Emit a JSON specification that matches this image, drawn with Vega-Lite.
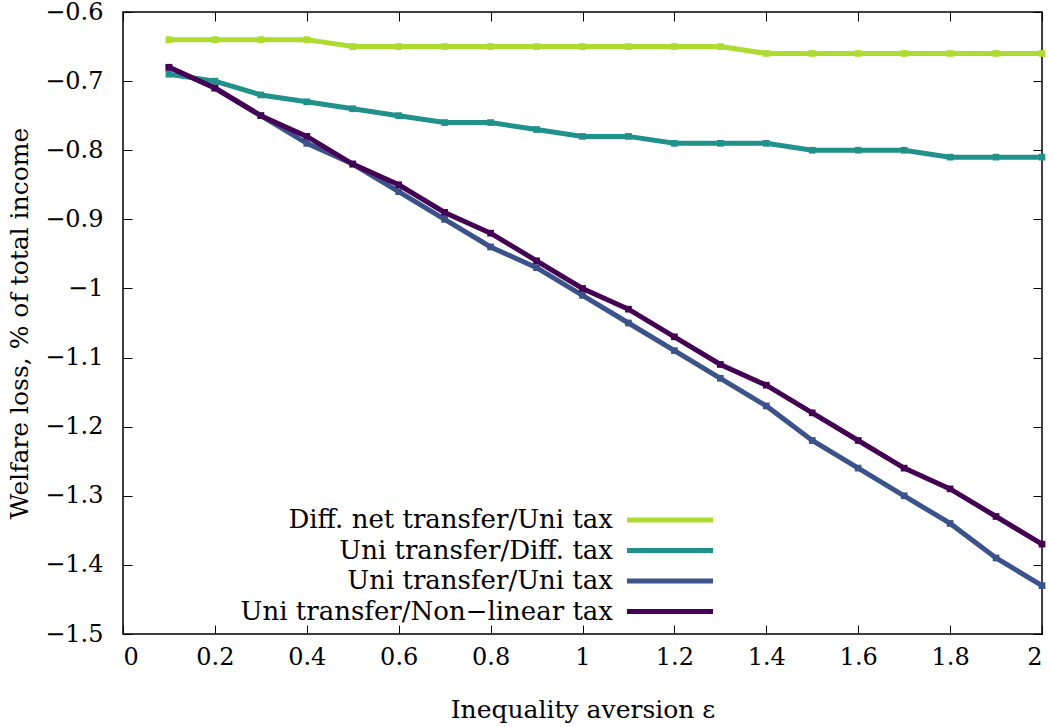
{
  "$schema": "https://vega.github.io/schema/vega-lite/v6.json",
  "width": 919,
  "height": 622,
  "autosize": {"type": "none"},
  "padding": {"left": 123, "top": 12, "right": 12, "bottom": 93},
  "background": "white",
  "config": {
    "view": {"stroke": "black", "strokeWidth": 1.5},
    "font": "DejaVu Serif",
    "axis": {
      "grid": false,
      "domain": false,
      "tickColor": "black",
      "tickSize": -9,
      "tickWidth": 1,
      "labelFont": "DejaVu Serif",
      "labelFontSize": 24,
      "labelColor": "black",
      "titleFont": "DejaVu Serif",
      "titleFontSize": 25,
      "titleFontWeight": "normal",
      "titleColor": "black"
    },
    "legend": {
      "labelFont": "DejaVu Serif",
      "labelFontSize": 26,
      "labelColor": "black",
      "labelLimit": 600
    }
  },
  "data": {
    "values": [
      {"e": 0.1, "v": -0.64, "s": "Diff. net transfer/Uni tax"},
      {"e": 0.2, "v": -0.64, "s": "Diff. net transfer/Uni tax"},
      {"e": 0.3, "v": -0.64, "s": "Diff. net transfer/Uni tax"},
      {"e": 0.4, "v": -0.64, "s": "Diff. net transfer/Uni tax"},
      {"e": 0.5, "v": -0.65, "s": "Diff. net transfer/Uni tax"},
      {"e": 0.6, "v": -0.65, "s": "Diff. net transfer/Uni tax"},
      {"e": 0.7, "v": -0.65, "s": "Diff. net transfer/Uni tax"},
      {"e": 0.8, "v": -0.65, "s": "Diff. net transfer/Uni tax"},
      {"e": 0.9, "v": -0.65, "s": "Diff. net transfer/Uni tax"},
      {"e": 1.0, "v": -0.65, "s": "Diff. net transfer/Uni tax"},
      {"e": 1.1, "v": -0.65, "s": "Diff. net transfer/Uni tax"},
      {"e": 1.2, "v": -0.65, "s": "Diff. net transfer/Uni tax"},
      {"e": 1.3, "v": -0.65, "s": "Diff. net transfer/Uni tax"},
      {"e": 1.4, "v": -0.66, "s": "Diff. net transfer/Uni tax"},
      {"e": 1.5, "v": -0.66, "s": "Diff. net transfer/Uni tax"},
      {"e": 1.6, "v": -0.66, "s": "Diff. net transfer/Uni tax"},
      {"e": 1.7, "v": -0.66, "s": "Diff. net transfer/Uni tax"},
      {"e": 1.8, "v": -0.66, "s": "Diff. net transfer/Uni tax"},
      {"e": 1.9, "v": -0.66, "s": "Diff. net transfer/Uni tax"},
      {"e": 2.0, "v": -0.66, "s": "Diff. net transfer/Uni tax"},
      {"e": 0.1, "v": -0.69, "s": "Uni transfer/Diff. tax"},
      {"e": 0.2, "v": -0.70, "s": "Uni transfer/Diff. tax"},
      {"e": 0.3, "v": -0.72, "s": "Uni transfer/Diff. tax"},
      {"e": 0.4, "v": -0.73, "s": "Uni transfer/Diff. tax"},
      {"e": 0.5, "v": -0.74, "s": "Uni transfer/Diff. tax"},
      {"e": 0.6, "v": -0.75, "s": "Uni transfer/Diff. tax"},
      {"e": 0.7, "v": -0.76, "s": "Uni transfer/Diff. tax"},
      {"e": 0.8, "v": -0.76, "s": "Uni transfer/Diff. tax"},
      {"e": 0.9, "v": -0.77, "s": "Uni transfer/Diff. tax"},
      {"e": 1.0, "v": -0.78, "s": "Uni transfer/Diff. tax"},
      {"e": 1.1, "v": -0.78, "s": "Uni transfer/Diff. tax"},
      {"e": 1.2, "v": -0.79, "s": "Uni transfer/Diff. tax"},
      {"e": 1.3, "v": -0.79, "s": "Uni transfer/Diff. tax"},
      {"e": 1.4, "v": -0.79, "s": "Uni transfer/Diff. tax"},
      {"e": 1.5, "v": -0.80, "s": "Uni transfer/Diff. tax"},
      {"e": 1.6, "v": -0.80, "s": "Uni transfer/Diff. tax"},
      {"e": 1.7, "v": -0.80, "s": "Uni transfer/Diff. tax"},
      {"e": 1.8, "v": -0.81, "s": "Uni transfer/Diff. tax"},
      {"e": 1.9, "v": -0.81, "s": "Uni transfer/Diff. tax"},
      {"e": 2.0, "v": -0.81, "s": "Uni transfer/Diff. tax"},
      {"e": 0.1, "v": -0.68, "s": "Uni transfer/Uni tax"},
      {"e": 0.2, "v": -0.71, "s": "Uni transfer/Uni tax"},
      {"e": 0.3, "v": -0.75, "s": "Uni transfer/Uni tax"},
      {"e": 0.4, "v": -0.79, "s": "Uni transfer/Uni tax"},
      {"e": 0.5, "v": -0.82, "s": "Uni transfer/Uni tax"},
      {"e": 0.6, "v": -0.86, "s": "Uni transfer/Uni tax"},
      {"e": 0.7, "v": -0.90, "s": "Uni transfer/Uni tax"},
      {"e": 0.8, "v": -0.94, "s": "Uni transfer/Uni tax"},
      {"e": 0.9, "v": -0.97, "s": "Uni transfer/Uni tax"},
      {"e": 1.0, "v": -1.01, "s": "Uni transfer/Uni tax"},
      {"e": 1.1, "v": -1.05, "s": "Uni transfer/Uni tax"},
      {"e": 1.2, "v": -1.09, "s": "Uni transfer/Uni tax"},
      {"e": 1.3, "v": -1.13, "s": "Uni transfer/Uni tax"},
      {"e": 1.4, "v": -1.17, "s": "Uni transfer/Uni tax"},
      {"e": 1.5, "v": -1.22, "s": "Uni transfer/Uni tax"},
      {"e": 1.6, "v": -1.26, "s": "Uni transfer/Uni tax"},
      {"e": 1.7, "v": -1.30, "s": "Uni transfer/Uni tax"},
      {"e": 1.8, "v": -1.34, "s": "Uni transfer/Uni tax"},
      {"e": 1.9, "v": -1.39, "s": "Uni transfer/Uni tax"},
      {"e": 2.0, "v": -1.43, "s": "Uni transfer/Uni tax"},
      {"e": 0.1, "v": -0.68, "s": "Uni transfer/Non−linear tax"},
      {"e": 0.2, "v": -0.71, "s": "Uni transfer/Non−linear tax"},
      {"e": 0.3, "v": -0.75, "s": "Uni transfer/Non−linear tax"},
      {"e": 0.4, "v": -0.78, "s": "Uni transfer/Non−linear tax"},
      {"e": 0.5, "v": -0.82, "s": "Uni transfer/Non−linear tax"},
      {"e": 0.6, "v": -0.85, "s": "Uni transfer/Non−linear tax"},
      {"e": 0.7, "v": -0.89, "s": "Uni transfer/Non−linear tax"},
      {"e": 0.8, "v": -0.92, "s": "Uni transfer/Non−linear tax"},
      {"e": 0.9, "v": -0.96, "s": "Uni transfer/Non−linear tax"},
      {"e": 1.0, "v": -1.00, "s": "Uni transfer/Non−linear tax"},
      {"e": 1.1, "v": -1.03, "s": "Uni transfer/Non−linear tax"},
      {"e": 1.2, "v": -1.07, "s": "Uni transfer/Non−linear tax"},
      {"e": 1.3, "v": -1.11, "s": "Uni transfer/Non−linear tax"},
      {"e": 1.4, "v": -1.14, "s": "Uni transfer/Non−linear tax"},
      {"e": 1.5, "v": -1.18, "s": "Uni transfer/Non−linear tax"},
      {"e": 1.6, "v": -1.22, "s": "Uni transfer/Non−linear tax"},
      {"e": 1.7, "v": -1.26, "s": "Uni transfer/Non−linear tax"},
      {"e": 1.8, "v": -1.29, "s": "Uni transfer/Non−linear tax"},
      {"e": 1.9, "v": -1.33, "s": "Uni transfer/Non−linear tax"},
      {"e": 2.0, "v": -1.37, "s": "Uni transfer/Non−linear tax"}
    ]
  },
  "layer": [
    {
      "mark": {"type": "line", "strokeWidth": 5, "point": {"filled": true, "shape": "square", "size": 45, "opacity": 1}},
      "encoding": {
        "x": {
          "field": "e", "type": "quantitative",
          "scale": {"domain": [0, 2], "nice": false, "zero": false},
          "axis": {
            "orient": "bottom",
            "values": [0, 0.2, 0.4, 0.6, 0.8, 1, 1.2, 1.4, 1.6, 1.8, 2],
            "format": ".1~f",
            "labelPadding": 20,
            "title": "Inequality aversion ε",
            "titlePadding": 28
          }
        },
        "y": {
          "field": "v", "type": "quantitative",
          "scale": {"domain": [-1.5, -0.6], "nice": false, "zero": false},
          "axis": {
            "orient": "left",
            "values": [-1.5, -1.4, -1.3, -1.2, -1.1, -1, -0.9, -0.8, -0.7, -0.6],
            "labelExpr": "replace(format(datum.value, '.1~f'), '-', '—')",
            "labelPadding": 29,
            "title": "Welfare loss, % of total income",
            "titlePadding": 12
          }
        },
        "color": {
          "field": "s", "type": "nominal",
          "scale": {
            "domain": ["Diff. net transfer/Uni tax", "Uni transfer/Diff. tax", "Uni transfer/Uni tax", "Uni transfer/Non−linear tax"],
            "range": ["#addc30", "#21918c", "#3b528b", "#440154"]
          },
          "legend": {
            "title": null,
            "orient": "none",
            "legendX": 534,
            "legendY": 495,
            "symbolType": "M-4.2,0H4.2",
            "symbolSize": 420,
            "symbolStrokeWidth": 5,
            "symbolFillColor": "transparent",
            "labelAlign": "right",
            "labelOffset": -70,
            "rowPadding": 4.5,
            "padding": 0
          }
        }
      }
    },
    {
      "mark": {"type": "point", "opacity": 0},
      "encoding": {
        "x": {"field": "e", "type": "quantitative", "axis": {"orient": "top", "values": [0, 0.2, 0.4, 0.6, 0.8, 1, 1.2, 1.4, 1.6, 1.8, 2], "labels": false, "title": null}},
        "y": {"field": "v", "type": "quantitative", "axis": {"orient": "right", "values": [-1.5, -1.4, -1.3, -1.2, -1.1, -1, -0.9, -0.8, -0.7, -0.6], "labels": false, "title": null}}
      }
    }
  ]
}
